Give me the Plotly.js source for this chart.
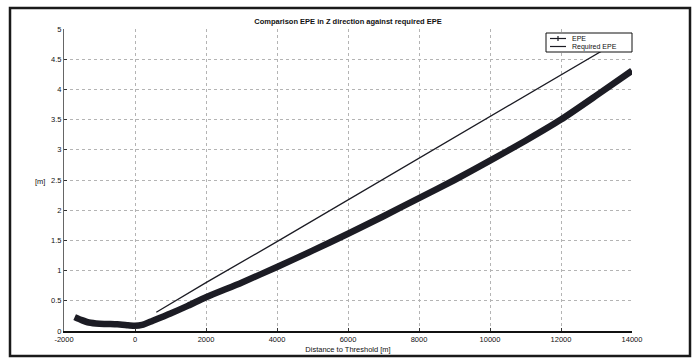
<!DOCTYPE html>
<html>
<head>
<meta charset="utf-8">
<script src="https://cdn.plot.ly/plotly-3.0.1.min.js"></script>
<style>
  html, body { margin: 0; padding: 0; background: #fff; }
  #chart { width: 700px; height: 358px; }
</style>
</head>
<body>
<div id="chart"></div>
<script>
// Distance to threshold [m] and EPE [m] of the measured trajectory
const epeDistance = [-1700, -1500, -1300, -1000, -700, -500, -200, 0, 200, 500, 1000, 1500, 2000, 3000, 4000, 5000, 6000, 7000, 8000, 9000, 10000, 11000, 12000, 13000, 14000];
const epeValue    = [0.23, 0.18, 0.14, 0.12, 0.115, 0.11, 0.095, 0.085, 0.10, 0.17, 0.29, 0.42, 0.56, 0.80, 1.06, 1.33, 1.61, 1.90, 2.20, 2.50, 2.82, 3.15, 3.50, 3.90, 4.31];

// Required EPE envelope
const reqDistance = [600, 2000, 4000, 6000, 8000, 10000, 12000, 14000];
const reqValue    = [0.31, 0.80, 1.48, 2.17, 2.87, 3.55, 4.24, 4.93];

const xTicks = [-2000, 0, 2000, 4000, 6000, 8000, 10000, 12000, 14000];
const yTicks = [0, 0.5, 1, 1.5, 2, 2.5, 3, 3.5, 4, 4.5, 5];

const seriesNames = ['EPE', 'Required EPE'];
const chartTitle = 'Comparison EPE in Z direction against required EPE';
const xLabel = 'Distance to Threshold [m]';
const yLabel = '[m]';

const ink = '#1c1c24';
const font = 'Liberation Sans, Arial, sans-serif';

const traces = [
  {
    x: epeDistance, y: epeValue, type: 'scatter', mode: 'lines',
    name: seriesNames[0],
    line: { color: ink, width: 6.5, shape: 'spline', smoothing: 0.6 },
    hoverinfo: 'skip'
  },
  {
    x: reqDistance, y: reqValue, type: 'scatter', mode: 'lines',
    name: seriesNames[1],
    line: { color: ink, width: 1.3 }
  }
];

// plot area in pixels
const L = 64, R = 68, T = 29, B = 27, W = 700, H = 358;
const pw = W - L - R, ph = H - T - B;
const px = v => (v - L) / pw;
const py = v => (H - B - v) / ph;

// compact boxed key in the top-right corner (white, so it hides the lines beneath it)
const key = { x0: 546, x1: 632, y0: 33, y1: 52, rows: [38.5, 46.5], lineX0: 550, lineX1: 566, textX: 570 };

const keyShapes = [
  {
    type: 'rect', xref: 'paper', yref: 'paper',
    x0: px(key.x0), x1: px(key.x1), y0: py(key.y1), y1: py(key.y0),
    line: { color: '#111', width: 1 }, fillcolor: '#fff', layer: 'above'
  },
  {
    type: 'line', xref: 'paper', yref: 'paper',
    x0: px(key.lineX0), x1: px(key.lineX1), y0: py(key.rows[0]), y1: py(key.rows[0]),
    line: { color: ink, width: 1.2 }, layer: 'above'
  },
  {
    // '+' marker on the EPE sample
    type: 'line', xref: 'paper', yref: 'paper',
    x0: px((key.lineX0 + key.lineX1) / 2), x1: px((key.lineX0 + key.lineX1) / 2),
    y0: py(key.rows[0] - 2.5), y1: py(key.rows[0] + 2.5),
    line: { color: ink, width: 1.2 }, layer: 'above'
  },
  {
    type: 'line', xref: 'paper', yref: 'paper',
    x0: px(key.lineX0), x1: px(key.lineX1), y0: py(key.rows[1]), y1: py(key.rows[1]),
    line: { color: ink, width: 1.2 }, layer: 'above'
  }
];

const keyLabels = seriesNames.map((name, i) => ({
  text: name, xref: 'paper', yref: 'paper', x: px(key.textX), y: py(key.rows[i]),
  xanchor: 'left', yanchor: 'middle', showarrow: false,
  font: { family: font, size: 7, color: '#111' }
}));

const axisCommon = {
  showgrid: true, gridcolor: '#b4b4b4', griddash: 'dot', gridwidth: 1,
  zeroline: false, ticks: 'inside', ticklen: 3, tickcolor: '#333',
  tickfont: { family: font, size: 7.5, color: '#111' },
  showline: true, linecolor: '#666', linewidth: 1, mirror: false
};

const layout = {
  width: W, height: H,
  margin: { l: L, r: R, t: T, b: B, pad: 0 },
  paper_bgcolor: '#fff', plot_bgcolor: '#fff',
  font: { family: font, color: '#111' },
  showlegend: false,
  title: {
    text: chartTitle, font: { family: font, size: 7.5, color: '#111', weight: 'bold' },
    x: 0.5, xref: 'paper', xanchor: 'center',
    y: 1 - 21 / H, yref: 'container', yanchor: 'middle'
  },
  xaxis: Object.assign({}, axisCommon, {
    range: [-2000, 14000], tickvals: xTicks, ticktext: xTicks.map(String),
    linecolor: '#111', linewidth: 1.5,
    title: { text: xLabel, font: { family: font, size: 7.5, color: '#111' }, standoff: 4 }
  }),
  yaxis: Object.assign({}, axisCommon, {
    range: [0, 5], tickvals: yTicks, ticktext: yTicks.map(String)
  }),
  annotations: [
    {
      text: yLabel, xref: 'paper', yref: 'paper', x: px(40), y: py(181),
      xanchor: 'center', yanchor: 'middle', showarrow: false,
      font: { family: font, size: 7.5, color: '#111' }
    }
  ].concat(keyLabels),
  shapes: [
    {
      type: 'rect', xref: 'paper', yref: 'paper',
      x0: px(10), x1: px(690), y0: py(356), y1: py(8),
      line: { color: '#1a1a1a', width: 2.5 }, fillcolor: 'rgba(0,0,0,0)', layer: 'above'
    }
  ].concat(keyShapes)
};

Plotly.newPlot('chart', traces, layout, { staticPlot: true, displayModeBar: false });
</script>
</body>
</html>
